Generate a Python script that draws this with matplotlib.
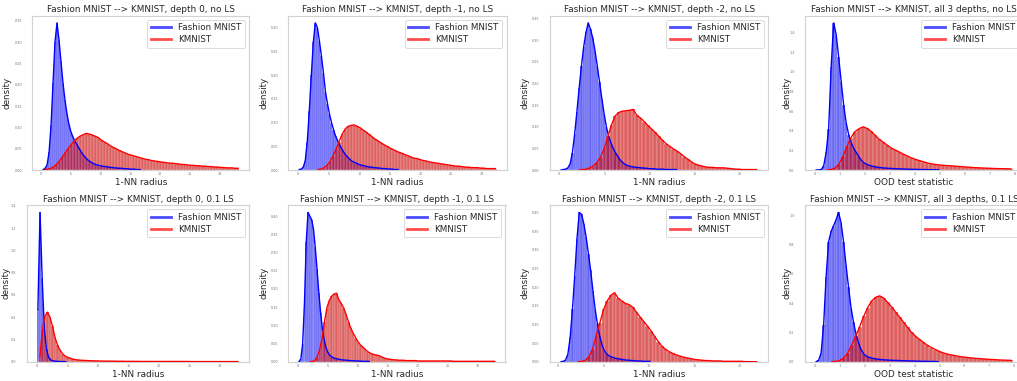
import numpy as np
import matplotlib
matplotlib.use("Agg")
import matplotlib.pyplot as plt
from matplotlib.lines import Line2D
from matplotlib.ticker import MultipleLocator

# ---------------- data ----------------
titles = [
    "Fashion MNIST --> KMNIST, depth 0, no LS",
    "Fashion MNIST --> KMNIST, depth -1, no LS",
    "Fashion MNIST --> KMNIST, depth -2, no LS",
    "Fashion MNIST --> KMNIST, all 3 depths, no LS",
    "Fashion MNIST --> KMNIST, depth 0, 0.1 LS",
    "Fashion MNIST --> KMNIST, depth -1, 0.1 LS",
    "Fashion MNIST --> KMNIST, depth -2, 0.1 LS",
    "Fashion MNIST --> KMNIST, all 3 depths, 0.1 LS",
]
xlabels = ["1-NN radius", "1-NN radius", "1-NN radius", "OOD test statistic",
           "1-NN radius", "1-NN radius", "1-NN radius", "OOD test statistic"]
series_names = ["Fashion MNIST", "KMNIST"]

# histogram ranges (lo, hi) and bin densities
p1_fm_range = (0.3, 16.8)
p1_fm = [0.001, 0.004, 0.012, 0.042, 0.105, 0.205, 0.300, 0.345, 0.305, 0.255,
         0.205, 0.165, 0.133, 0.108, 0.090, 0.078, 0.068, 0.060, 0.052, 0.044,
         0.037, 0.031, 0.026, 0.022, 0.019, 0.016, 0.014, 0.012, 0.011, 0.010,
         0.009, 0.008, 0.008, 0.007, 0.006, 0.006, 0.005, 0.005, 0.004, 0.004,
         0.004, 0.003, 0.003, 0.003, 0.002, 0.002, 0.002, 0.001, 0.001, 0.001]
p1_km_range = (0.5, 33.2)
p1_km = [0.001, 0.002, 0.004, 0.008, 0.014, 0.022, 0.032, 0.042, 0.052, 0.061,
         0.069, 0.075, 0.080, 0.083, 0.086, 0.084, 0.082, 0.079, 0.076, 0.070,
         0.066, 0.062, 0.057, 0.053, 0.050, 0.046, 0.043, 0.040, 0.037, 0.035,
         0.033, 0.031, 0.029, 0.027, 0.025, 0.024, 0.022, 0.021, 0.020, 0.019,
         0.018, 0.017, 0.016, 0.016, 0.015, 0.014, 0.013, 0.013, 0.012, 0.011,
         0.011, 0.010, 0.010, 0.009, 0.009, 0.008, 0.008, 0.007, 0.007, 0.006,
         0.006, 0.005, 0.005, 0.005, 0.004, 0.004]

p2_fm_range = (0.0, 16.5)
p2_fm = [0.001, 0.002, 0.006, 0.020, 0.060, 0.125, 0.200, 0.270, 0.310, 0.300,
         0.272, 0.240, 0.205, 0.165, 0.140, 0.118, 0.100, 0.085, 0.072, 0.062,
         0.053, 0.045, 0.038, 0.032, 0.027, 0.023, 0.019, 0.017, 0.015, 0.013,
         0.011, 0.010, 0.009, 0.008, 0.007, 0.006, 0.006, 0.005, 0.005, 0.004,
         0.004, 0.003, 0.003, 0.003, 0.002, 0.002, 0.002, 0.001, 0.001, 0.001]
p2_km_range = (3.0, 32.5)
p2_km = [0.001, 0.002, 0.005, 0.010, 0.018, 0.030, 0.044, 0.060, 0.075, 0.086,
         0.092, 0.094, 0.095, 0.092, 0.089, 0.084, 0.080, 0.075, 0.070, 0.065,
         0.061, 0.057, 0.053, 0.050, 0.046, 0.043, 0.040, 0.037, 0.035, 0.032,
         0.030, 0.027, 0.025, 0.024, 0.022, 0.020, 0.019, 0.017, 0.016, 0.015,
         0.014, 0.013, 0.012, 0.011, 0.010, 0.009, 0.008, 0.008, 0.007, 0.006,
         0.006, 0.005, 0.005, 0.005, 0.004, 0.004, 0.003, 0.003, 0.003, 0.003]

p3_fm_range = (0.1, 13.1)
p3_fm = [0.000, 0.001, 0.002, 0.005, 0.014, 0.040, 0.083, 0.135, 0.190, 0.240,
         0.285, 0.318, 0.340, 0.325, 0.305, 0.275, 0.240, 0.203, 0.165, 0.130,
         0.100, 0.078, 0.063, 0.050, 0.040, 0.032, 0.024, 0.018, 0.014, 0.011,
         0.009, 0.008, 0.007, 0.006, 0.006, 0.005, 0.005, 0.004, 0.004, 0.003,
         0.003, 0.003, 0.002, 0.002, 0.002, 0.002, 0.001, 0.001, 0.001, 0.001,
         0.001, 0.001]
p3_km_range = (2.0, 22.0)
p3_km = [0.000, 0.001, 0.002, 0.005, 0.010, 0.018, 0.031, 0.050, 0.078, 0.105,
         0.125, 0.133, 0.136, 0.137, 0.138, 0.140, 0.126, 0.120, 0.112, 0.103,
         0.095, 0.087, 0.078, 0.069, 0.061, 0.055, 0.049, 0.044, 0.038, 0.031,
         0.025, 0.019, 0.014, 0.011, 0.009, 0.007, 0.006, 0.006, 0.005, 0.005,
         0.005, 0.004, 0.003, 0.002, 0.002, 0.001, 0.001, 0.001, 0.001, 0.001]

p4_fm_range = (0.0, 5.0)
p4_fm = [0.000, 0.001, 0.004, 0.040, 0.180, 0.420, 1.050, 1.500, 1.380, 1.150,
         0.900, 0.660, 0.480, 0.360, 0.280, 0.220, 0.180, 0.140, 0.100, 0.075,
         0.060, 0.050, 0.042, 0.036, 0.031, 0.027, 0.024, 0.021, 0.019, 0.017,
         0.016, 0.014, 0.013, 0.012, 0.011, 0.010, 0.009, 0.008, 0.007, 0.007,
         0.006, 0.005, 0.005, 0.004, 0.004, 0.003, 0.003, 0.002, 0.002, 0.001]
p4_km_range = (0.4, 7.92)
p4_km = [0.000, 0.005, 0.020, 0.060, 0.140, 0.240, 0.330, 0.390, 0.420, 0.440,
         0.425, 0.395, 0.355, 0.315, 0.285, 0.255, 0.225, 0.205, 0.185, 0.163,
         0.145, 0.125, 0.110, 0.097, 0.085, 0.073, 0.064, 0.057, 0.052, 0.048,
         0.045, 0.042, 0.039, 0.036, 0.033, 0.030, 0.027, 0.024, 0.022, 0.020,
         0.018, 0.017, 0.015, 0.014, 0.013, 0.012, 0.011]

p5_fm_range = (0.0, 4.9)
p5_fm = [0.470, 1.340, 0.750, 0.300, 0.110, 0.040, 0.015, 0.008, 0.005, 0.003,
         0.002, 0.001, 0.001, 0.000]
p5_km_range = (0.3, 33.1)
p5_km = [0.040, 0.290, 0.410, 0.445, 0.400, 0.320, 0.220, 0.150, 0.105, 0.073,
         0.052, 0.040, 0.032, 0.024, 0.019, 0.016, 0.014, 0.012, 0.011, 0.010,
         0.009, 0.008, 0.007, 0.007, 0.006, 0.006, 0.005, 0.005, 0.005, 0.005,
         0.004, 0.004, 0.004, 0.004, 0.003, 0.003, 0.003, 0.003, 0.003, 0.003,
         0.002, 0.002, 0.002, 0.002, 0.002, 0.002, 0.002, 0.002, 0.002, 0.002,
         0.002, 0.002, 0.002, 0.002, 0.002, 0.002, 0.002, 0.002, 0.002, 0.002,
         0.001, 0.001, 0.001, 0.001, 0.001, 0.001, 0.001, 0.001, 0.001, 0.001,
         0.001, 0.001, 0.001, 0.001, 0.001, 0.001, 0.001, 0.001, 0.001, 0.001]

p6_fm_range = (0.0, 12.0)
p6_fm = [0.000, 0.008, 0.050, 0.160, 0.330, 0.410, 0.400, 0.390, 0.365, 0.315,
         0.255, 0.190, 0.135, 0.090, 0.060, 0.038, 0.026, 0.018, 0.014, 0.011,
         0.009, 0.008, 0.007, 0.006, 0.005, 0.005, 0.004, 0.004, 0.003, 0.003,
         0.003, 0.002, 0.002, 0.002, 0.002, 0.001, 0.001, 0.001, 0.001, 0.001]
p6_km_range = (1.8, 33.0)
p6_km = [0.000, 0.001, 0.004, 0.014, 0.034, 0.065, 0.110, 0.148, 0.168, 0.180,
         0.186, 0.188, 0.170, 0.160, 0.148, 0.130, 0.110, 0.092, 0.078, 0.066,
         0.055, 0.046, 0.040, 0.034, 0.028, 0.024, 0.021, 0.019, 0.018, 0.016,
         0.013, 0.010, 0.008, 0.007, 0.006, 0.005, 0.005, 0.004, 0.004, 0.004,
         0.003, 0.003, 0.003, 0.003, 0.003, 0.002, 0.002, 0.002, 0.002, 0.002,
         0.002, 0.002, 0.002, 0.002, 0.002, 0.002, 0.002, 0.002, 0.002, 0.002,
         0.001, 0.001, 0.001, 0.001, 0.001, 0.001, 0.001, 0.001, 0.001, 0.001,
         0.001, 0.001, 0.001, 0.001, 0.001, 0.001, 0.001, 0.001]

p7_fm_range = (0.2, 10.2)
p7_fm = [0.000, 0.001, 0.005, 0.020, 0.065, 0.140, 0.230, 0.330, 0.400, 0.395,
         0.370, 0.335, 0.290, 0.245, 0.190, 0.140, 0.100, 0.068, 0.045, 0.030,
         0.021, 0.016, 0.013, 0.011, 0.009, 0.008, 0.007, 0.006, 0.005, 0.004,
         0.004, 0.003, 0.003, 0.002, 0.002, 0.002, 0.001, 0.001, 0.001, 0.001]
p7_km_range = (2.0, 22.0)
p7_km = [0.000, 0.001, 0.004, 0.014, 0.035, 0.072, 0.105, 0.140, 0.163, 0.178,
         0.185, 0.170, 0.163, 0.156, 0.153, 0.146, 0.133, 0.120, 0.108, 0.096,
         0.083, 0.068, 0.054, 0.042, 0.033, 0.027, 0.022, 0.018, 0.015, 0.012,
         0.010, 0.008, 0.006, 0.005, 0.004, 0.003, 0.003, 0.002, 0.002, 0.002,
         0.001, 0.001, 0.001, 0.001, 0.001, 0.001, 0.000, 0.000, 0.000, 0.000]

p8_fm_range = (0.0, 5.0)
p8_fm = [0.000, 0.010, 0.060, 0.250, 0.580, 0.820, 0.890, 0.930, 0.970, 1.020,
         0.950, 0.820, 0.660, 0.510, 0.370, 0.270, 0.190, 0.130, 0.085, 0.055,
         0.040, 0.031, 0.026, 0.022, 0.019, 0.017, 0.015, 0.013, 0.012, 0.011,
         0.010, 0.009, 0.009, 0.008, 0.007, 0.007, 0.006, 0.006, 0.005, 0.005,
         0.004, 0.004, 0.003, 0.003, 0.003, 0.002, 0.002, 0.002, 0.001, 0.001]
p8_km_range = (0.6, 7.96)
p8_km = [0.000, 0.003, 0.010, 0.025, 0.060, 0.115, 0.175, 0.240, 0.310, 0.370,
         0.415, 0.440, 0.450, 0.435, 0.405, 0.375, 0.340, 0.305, 0.270, 0.235,
         0.200, 0.175, 0.152, 0.132, 0.112, 0.097, 0.083, 0.070, 0.060, 0.052,
         0.046, 0.041, 0.036, 0.032, 0.029, 0.026, 0.023, 0.021, 0.019, 0.017,
         0.015, 0.014, 0.012, 0.011, 0.010, 0.009]

panels = [
    (p1_fm_range, p1_fm, p1_km_range, p1_km),
    (p2_fm_range, p2_fm, p2_km_range, p2_km),
    (p3_fm_range, p3_fm, p3_km_range, p3_km),
    (p4_fm_range, p4_fm, p4_km_range, p4_km),
    (p5_fm_range, p5_fm, p5_km_range, p5_km),
    (p6_fm_range, p6_fm, p6_km_range, p6_km),
    (p7_fm_range, p7_fm, p7_km_range, p7_km),
    (p8_fm_range, p8_fm, p8_km_range, p8_km),
]

# ---------------- layout / style ----------------
W, H = 1017, 381
boxes = [(32.3, 15.5, 249.3, 170.0), (288.3, 15.5, 506.7, 170.0),
         (550.0, 15.5, 768.3, 170.0), (805.0, 15.5, 1023.0, 170.0),
         (26.7, 205.0, 249.3, 361.7), (288.3, 205.0, 505.5, 361.7),
         (550.0, 205.0, 768.3, 361.7), (805.0, 205.0, 1023.0, 361.7)]
ylabel_offset_px = [-21.0, -19.5, -20.0, -14.0, -16.0, -19.5, -20.0, -14.0]
bar_colors = ["#0000ee", "#c80000"]
bar_alphas = [0.6, 0.62]
line_colors = ["#0000ff", "#ff0000"]

fig = plt.figure(figsize=(W / 100, H / 100), dpi=100)
text_c = "0.15"

for i, (box, pdata) in enumerate(zip(boxes, panels)):
    l, t, r, b = box
    ax = fig.add_axes([l / W, 1 - b / H, (r - l) / W, (b - t) / H])
    fr, fv, kr, kv = pdata
    series = [(fr, fv), (kr, kv)]
    for (rng, vals), c, a in zip(series, bar_colors, bar_alphas):
        vals = np.asarray(vals)
        edges = np.linspace(rng[0], rng[1], len(vals) + 1)
        ax.bar(edges[:-1], vals, width=np.diff(edges), align="edge",
               color=c, alpha=a, edgecolor="white", linewidth=0.25, zorder=2)
    for (rng, vals), c in zip(series, line_colors):
        vals = np.asarray(vals)
        edges = np.linspace(rng[0], rng[1], len(vals) + 1)
        centers = 0.5 * (edges[:-1] + edges[1:])
        ax.plot(centers, vals, color=c, lw=1.0, zorder=3)
    ax.margins(x=0.05)
    stat = "OOD" in xlabels[i]
    ax.xaxis.set_major_locator(MultipleLocator(1 if stat else 5))
    ymax = ax.get_ylim()[1]
    if stat or ymax > 1:
        ax.yaxis.set_major_locator(MultipleLocator(0.2))
    else:
        ax.yaxis.set_major_locator(MultipleLocator(0.05))
    ax.tick_params(axis="both", length=0, labelsize=2.4, labelcolor="0.45")
    ax.tick_params(axis="y", pad=7.5)
    ax.tick_params(axis="x", pad=1.5)
    for s in ax.spines.values():
        s.set_color("0.82")
        s.set_linewidth(0.8)
    ax.set_title(titles[i], fontsize=6.4, color=text_c, pad=2.5)
    ax.set_xlabel(xlabels[i], fontsize=6.4, color=text_c, labelpad=1.5)
    ax.set_ylabel("density", fontsize=6.3, color=text_c)
    ax.yaxis.set_label_coords(ylabel_offset_px[i] / (r - l), 0.5)
    handles = [Line2D([0], [0], color=c, lw=2.0, alpha=0.7) for c in line_colors]
    leg = ax.legend(handles, series_names, loc="upper right", fontsize=6.3,
                    frameon=True, fancybox=True, edgecolor="0.8",
                    borderaxespad=0.5, handlelength=2.3, labelspacing=0.35,
                    handletextpad=0.8, borderpad=0.4)
    leg.get_frame().set_linewidth(0.6)
    for txt in leg.get_texts():
        txt.set_color(text_c)

fig.savefig("out.png", dpi=100)
